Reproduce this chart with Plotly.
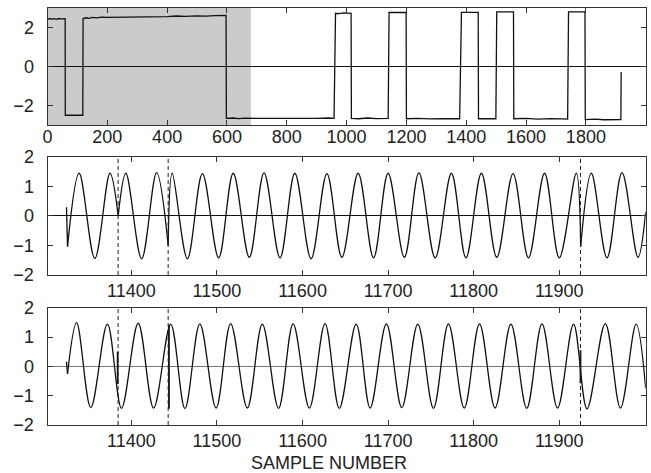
import plotly.graph_objects as go

# ---------------- panel 1: decoded symbol stream (samples 0..2000) ----------------
sym_x = [0, 8, 14, 22, 30, 38, 46, 59, 59.5, 118, 119, 130, 140, 150, 165, 180, 200, 250,
         300, 330, 360, 400, 430, 460, 500, 530, 560, 597, 598, 620, 640, 660, 700, 760,
         800, 900, 940, 958, 963, 975, 990, 1005, 1015, 1016, 1040, 1070, 1100, 1139, 1142,
         1199, 1200, 1240, 1280, 1320, 1378, 1384, 1440, 1441, 1499, 1502, 1558, 1559,
         1600, 1640, 1680, 1720, 1739, 1742, 1797, 1798, 1830, 1860, 1890, 1917, 1918]
sym_y = [2.42, 2.46, 2.43, 2.45, 2.42, 2.46, 2.44, 2.45, -2.50, -2.50, 2.46, 2.50, 2.47,
         2.52, 2.49, 2.53, 2.52, 2.53, 2.55, 2.53, 2.57, 2.56, 2.59, 2.57, 2.60, 2.58,
         2.61, 2.62, -2.66, -2.64, -2.67, -2.65, -2.66, -2.67, -2.65, -2.66, -2.64, -2.66,
         2.73, 2.71, 2.75, 2.72, 2.73, -2.66, -2.68, -2.64, -2.67, -2.66, 2.77,
         2.77, -2.68, -2.66, -2.69, -2.67, -2.68, 2.78, 2.78, -2.68, -2.68, 2.80, 2.80,
         -2.68, -2.66, -2.70, -2.67, -2.69, -2.70, 2.80, 2.80, -2.72, -2.70, -2.73,
         -2.71, -2.72, -0.28]
shade_x = [0, 680]

# ---------------- panel 2: received carrier (phase-segmented) ----------------
mid_start_x = [11324.2, 11325.4]
mid_start_y = [0.29, -1.04]
mid_seg_x = [
    [11325.4, 11339, 11357.3, 11375, 11384.6],
    [11384.6, 11393.6, 11412, 11429.5, 11443],
    [11443, 11447.7, 11465.5, 11483, 11502, 11519, 11537.8, 11555, 11573.7, 11591,
     11610, 11628.5, 11646, 11665, 11683, 11700, 11719, 11736, 11755, 11774, 11791,
     11809, 11827, 11846, 11864, 11882.8, 11900, 11919.9, 11925],
    [11925, 11937.5, 11955.8, 11973.3, 11992, 12001],
]
mid_seg_y = [
    [-1.04, 1.44, -1.44, 1.44, 0.0],
    [0.0, 1.44, -1.45, 1.46, -1.0],
    [-1.0, 1.44, -1.45, 1.43, -1.42, 1.44, -1.40, 1.45, -1.42, 1.44,
     -1.45, 1.43, -1.40, 1.44, -1.42, 1.44, -1.40, 1.45, -1.42, 1.44, -1.42,
     1.44, -1.40, 1.43, -1.42, 1.44, -1.42, 1.44, -1.04],
    [-1.04, 1.44, -1.42, 1.46, -1.40, 0.14],
]

# ---------------- panel 3: reconstructed carrier ----------------
low_start_x = [11324.2, 11325.4]
low_start_y = [0.16, -0.26]
low_x = [11325.4, 11336, 11352.6, 11372, 11388.5, 11408, 11426, 11446, 11462.6, 11480,
         11499, 11516, 11535.5, 11553, 11572, 11589, 11608, 11626.3, 11643, 11662.7,
         11679, 11698, 11716, 11734.7, 11753, 11770.5, 11789, 11806.8, 11825, 11843.5,
         11862, 11879.8, 11898, 11916.7, 11932.4, 11953.8, 11971.5, 11989.8, 12001]
low_y = [-0.26, 1.49, -1.41, 1.44, -1.43, 1.47, -1.42, 1.44, -1.44, 1.45,
         -1.42, 1.46, -1.42, 1.44, -1.43, 1.45, -1.42, 1.46, -1.43, 1.44,
         -1.42, 1.45, -1.41, 1.44, -1.43, 1.45, -1.42, 1.45, -1.42, 1.44,
         -1.43, 1.45, -1.42, 1.44, -1.45, 1.46, -1.42, 1.44, -0.75]
spike_x = [11384, 11443.9, 11924.8]
spike_top = [0.5, 1.41, 0.55]
spike_bot = [-0.6, -1.45, -0.58]

# symbol boundaries (phase flips)
flip_x = [11384.5, 11443, 11924.8]

top_ticks = [0, 200, 400, 600, 800, 1000, 1200, 1400, 1600, 1800]
smp_ticks = [11400, 11500, 11600, 11700, 11800, 11900]

LINE = "#111111"
FRAME = "#333333"
FONT = dict(family="Liberation Sans, Arial, Helvetica, sans-serif", size=18, color="#222222")

fig = go.Figure()

fig.add_trace(go.Scatter(x=sym_x, y=sym_y, mode="lines", line=dict(color=LINE, width=1.3),
                         xaxis="x", yaxis="y", hoverinfo="skip"))

fig.add_trace(go.Scatter(x=mid_start_x, y=mid_start_y, mode="lines",
                         line=dict(color=LINE, width=1.3), xaxis="x2", yaxis="y2"))
for sx, sy in zip(mid_seg_x, mid_seg_y):
    fig.add_trace(go.Scatter(x=sx, y=sy, mode="lines",
                             line=dict(color=LINE, width=1.3, shape="spline", smoothing=1.0),
                             xaxis="x2", yaxis="y2"))

fig.add_trace(go.Scatter(x=low_start_x, y=low_start_y, mode="lines",
                         line=dict(color=LINE, width=1.3), xaxis="x3", yaxis="y3"))
fig.add_trace(go.Scatter(x=low_x, y=low_y, mode="lines",
                         line=dict(color=LINE, width=1.3, shape="spline", smoothing=1.0),
                         xaxis="x3", yaxis="y3"))
for sx, t, b in zip(spike_x, spike_top, spike_bot):
    fig.add_trace(go.Scatter(x=[sx, sx], y=[t, b], mode="lines",
                             line=dict(color=LINE, width=1.8), xaxis="x3", yaxis="y3"))

shapes = [dict(type="rect", xref="x", yref="y domain", x0=shade_x[0], x1=shade_x[1], y0=0, y1=1,
               fillcolor="#cbcbcb", line=dict(width=0), layer="below")]
for xr, yr in (("x2", "y2 domain"), ("x3", "y3 domain")):
    for fx in flip_x:
        shapes.append(dict(type="line", xref=xr, yref=yr, x0=fx, x1=fx, y0=0, y1=1,
                           line=dict(color="#222222", width=1, dash="4px,3px")))

W, H = 651, 473
def xd(a, b):
    return [a / W, b / W]
def yd(top, bot):
    return [1 - bot / H, 1 - top / H]

ax_common = dict(showline=True, linecolor=FRAME, linewidth=1, mirror="ticks", ticks="inside",
                 ticklen=5, tickcolor=FRAME, showgrid=False, tickfont=FONT, automargin=False)
x_common = dict(tickformat="d", **ax_common)
y_common = dict(ticklabelstandoff=9, **ax_common)

fig.update_layout(
    template="none",
    width=W, height=H, margin=dict(l=0, r=0, t=0, b=0, pad=0),
    paper_bgcolor="white", plot_bgcolor="white", showlegend=False,
    font=FONT, shapes=shapes,
    xaxis=dict(domain=xd(47.5, 645.7), range=[0, 2000], tickvals=top_ticks, anchor="y",
               ticklabelstandoff=-5, **x_common),
    yaxis=dict(domain=yd(8, 125), range=[-3, 3], tickvals=[-2, 0, 2], anchor="x",
               zeroline=True, zerolinecolor="#111111", zerolinewidth=1, **y_common),
    xaxis2=dict(domain=xd(47.5, 645.7), range=[11302, 12001], tickvals=smp_ticks, anchor="y2",
                ticklabelstandoff=-1, **x_common),
    yaxis2=dict(domain=yd(156.7, 275), range=[-2, 2], tickvals=[-2, -1, 0, 1, 2], anchor="x2",
                zeroline=True, zerolinecolor="#111111", zerolinewidth=1, **y_common),
    xaxis3=dict(domain=xd(47.5, 645.7), range=[11302, 12001], tickvals=smp_ticks, anchor="y3",
                ticklabelstandoff=-1, **x_common),
    yaxis3=dict(domain=yd(307.7, 425), range=[-2, 2], tickvals=[-2, -1, 0, 1, 2], anchor="x3",
                zeroline=True, zerolinecolor="#777777", zerolinewidth=1, **y_common),
    annotations=[dict(text="SAMPLE NUMBER", xref="paper", yref="paper", x=329 / W, y=1 - 463 / H,
                      xanchor="center", yanchor="middle", showarrow=False, font=FONT)],
)

fig.write_html("out.html")
